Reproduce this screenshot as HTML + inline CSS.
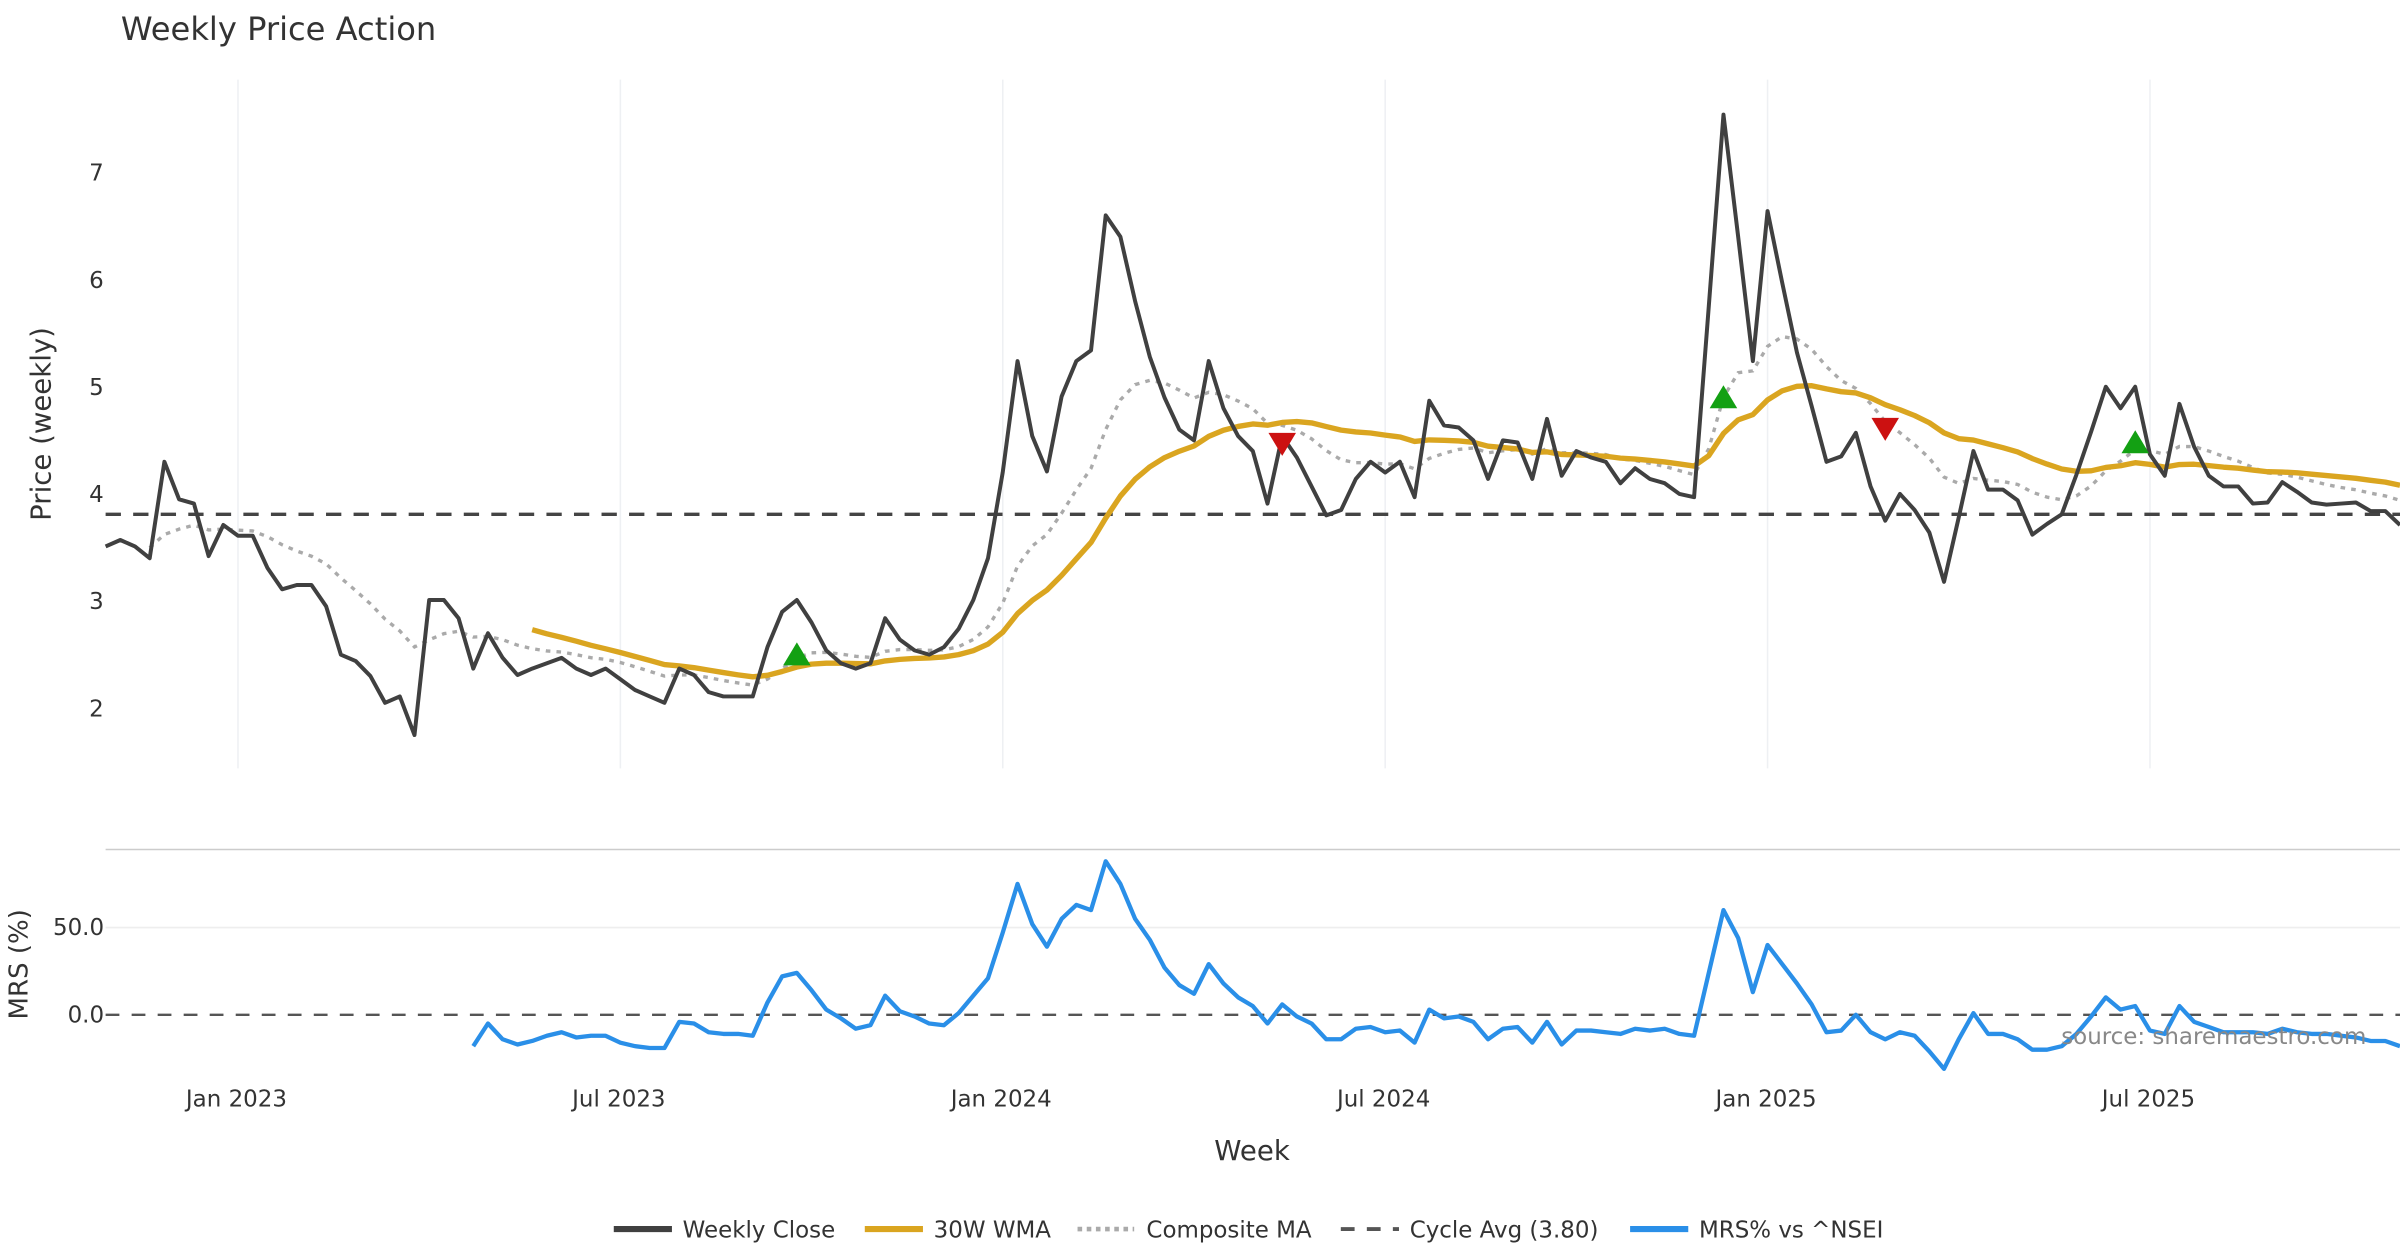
<!DOCTYPE html>
<html><head><meta charset="utf-8"><style>
html,body{margin:0;padding:0;background:#fff;}
svg{display:block;font-family:"DejaVu Sans","Liberation Sans",sans-serif;}
</style></head><body>
<svg id="chart" width="2400" height="1260" viewBox="0 0 1568 823.2" xmlns="http://www.w3.org/2000/svg">
<text x="79" y="26" font-size="21" fill="#333">Weekly Price Action</text>
<g id="grid"></g>
<g id="main"></g>
<g id="lower"></g>
<text transform="translate(33,277) rotate(-90)" text-anchor="middle" font-size="18" fill="#333">Price (weekly)</text>
<text transform="translate(18,630) rotate(-90)" text-anchor="middle" font-size="17" fill="#333">MRS (%)</text>
<text x="818" y="758" text-anchor="middle" font-size="18" fill="#333">Week</text>
<text x="1546" y="682" text-anchor="end" font-size="15" fill="#888">source: sharemaestro.com</text>
<g id="legend" font-size="15" fill="#333">
 <g><line x1="401" y1="803" x2="439" y2="803" stroke="#404040" stroke-width="4"/><text x="446" y="808.5">Weekly Close</text></g>
 <g><line x1="565" y1="803" x2="603" y2="803" stroke="#DAA520" stroke-width="4"/><text x="610" y="808.5">30W WMA</text></g>
 <g><line x1="704" y1="803" x2="741" y2="803" stroke="#aaa" stroke-width="3" stroke-dasharray="3,3"/><text x="749" y="808.5">Composite MA</text></g>
 <g><line x1="876" y1="803" x2="914" y2="803" stroke="#555" stroke-width="2.5" stroke-dasharray="9,8"/><text x="921" y="808.5">Cycle Avg (3.80)</text></g>
 <g><line x1="1065" y1="803" x2="1103" y2="803" stroke="#2A8FE8" stroke-width="4"/><text x="1110" y="808.5">MRS% vs ^NSEI</text></g>
</g>
</svg>
<script>
const closes=[3.5,3.56,3.5,3.39,4.29,3.94,3.9,3.41,3.7,3.6,3.6,3.3,3.1,3.14,3.14,2.94,2.49,2.43,2.29,2.04,2.1,1.74,3.0,3.0,2.83,2.36,2.69,2.46,2.3,2.36,2.41,2.46,2.36,2.3,2.36,2.26,2.16,2.1,2.04,2.36,2.3,2.14,2.1,2.1,2.1,2.56,2.89,3.0,2.79,2.53,2.41,2.36,2.41,2.83,2.63,2.53,2.49,2.56,2.73,3.0,3.39,4.19,5.23,4.53,4.2,4.9,5.23,5.33,6.59,6.39,5.79,5.27,4.89,4.59,4.49,5.23,4.79,4.53,4.39,3.9,4.53,4.33,4.06,3.79,3.84,4.13,4.29,4.19,4.29,3.96,4.86,4.63,4.61,4.49,4.13,4.49,4.47,4.13,4.69,4.16,4.39,4.33,4.29,4.09,4.23,4.13,4.09,3.99,3.96,5.74,7.53,6.39,5.23,6.63,5.96,5.31,4.81,4.29,4.34,4.56,4.06,3.74,3.99,3.84,3.63,3.17,3.77,4.39,4.03,4.03,3.93,3.61,3.71,3.8,4.17,4.57,4.99,4.79,4.99,4.36,4.16,4.83,4.43,4.16,4.06,4.06,3.9,3.91,4.1,4.01,3.91,3.89,3.9,3.91,3.83,3.83,3.7];
const mrs=[-18,-5,-14,-17,-15,-12,-10,-13,-12,-12,-16,-18,-19,-19,-4,-5,-10,-11,-11,-12,7,22,24,14,3,-2,-8,-6,11,2,-1,-5,-6,1,11,21,47,75,52,39,55,63,60,88,75,55,43,27,17,12,29,18,10,5,-5,6,-1,-5,-14,-14,-8,-7,-10,-9,-16,3,-2,-1,-4,-14,-8,-7,-16,-4,-17,-9,-9,-10,-11,-8,-9,-8,-11,-12,24,60,44,13,40,29,18,6,-10,-9,0,-10,-14,-10,-12,-21,-31,-14,1,-11,-11,-14,-20,-20,-18,-11,-1,10,3,5,-9,-11,5,-4,-7,-10,-10,-10,-11,-8,-10,-11,-11,-12,-13,-15,-15,-18];
const cycleAvg=3.80;
const priceTicks=[2,3,4,5,6,7];
const mrsTicks=[0,50];
const mrsTickLabels=["0.0","50.0"];
const xTickIdx=[9,35,61,87,113,139];
const xTickLabels=["Jan 2023","Jul 2023","Jan 2024","Jul 2024","Jan 2025","Jul 2025"];
const buyIdx=[47,110,138];
const buyVal=[2.49,4.89,4.47];
const sellIdx=[80,121];
const sellVal=[4.46,4.6];

const NS="http://www.w3.org/2000/svg";
const X0=69,X1=1568;
const n=closes.length;
const xS=i=>X0+i*(X1-X0)/(n-1);
const yP=v=>462-(v-2)*70;
const yM=v=>663-v*1.14;
function mk(tag,attrs,parent){const e=document.createElementNS(NS,tag);for(const k in attrs)e.setAttribute(k,attrs[k]);parent.appendChild(e);return e;}
const grid=document.getElementById('grid'),main=document.getElementById('main'),lower=document.getElementById('lower');
function path(pts){return pts.map((p,k)=>(k?'L':'M')+p[0].toFixed(1)+','+p[1].toFixed(1)).join('');}

xTickIdx.forEach((ix,k)=>{
  const l=mk('line',{x1:xS(ix),x2:xS(ix),y1:52,y2:502,stroke:'#eef0f3','stroke-width':1},grid);
  
  
  const t=mk('text',{x:xS(ix)-1,y:723,'text-anchor':'middle','font-size':15,fill:'#333'},grid);
  t.textContent=xTickLabels[k];
  
  
});
priceTicks.forEach(v=>{
  const t=mk('text',{x:63,y:yP(v)+6,'text-anchor':'middle','font-size':15,fill:'#333'},grid);
  t.textContent=v;
  
  
});
const sep=mk('line',{x1:X0,x2:X1,y1:555,y2:555,stroke:'#ccc','stroke-width':1},lower);


mrsTicks.forEach((v,k)=>{
  if(v!==0){const g=mk('line',{x1:X0,x2:X1,y1:yM(v),y2:yM(v),stroke:'#eee','stroke-width':1},lower);
  
  }
  const t=mk('text',{x:68,y:yM(v)+5,'text-anchor':'end','font-size':15,fill:'#333'},lower);
  t.textContent=mrsTickLabels[k];
  
  
});
const z=mk('line',{x1:X0,x2:X1,y1:yM(0),y2:yM(0),stroke:'#555','stroke-width':1.5,'stroke-dasharray':'9,8'},lower);



const ca=mk('line',{x1:X0,x2:X1,y1:yP(cycleAvg),y2:yP(cycleAvg),stroke:'#444','stroke-width':2.2,'stroke-dasharray':'10,8'},main);



// composite MA: EMA span 12 seeded with SMA of first 4
const comp=[];
const alpha=2/13;
let e=(closes[0]+closes[1]+closes[2]+closes[3])/4;
comp.push([xS(3),yP(e)]);
for(let i=4;i<n;i++){e=e+alpha*(closes[i]-e);comp.push([xS(i),yP(e)]);}
const cp=mk('path',{d:path(comp),fill:'none',stroke:'#aaa','stroke-width':2.2,'stroke-dasharray':'3,4'},main);


const wma=[];
for(let i=29;i<n;i++){let s=0,ws=0;for(let j=0;j<30;j++){const w=j+1;s+=closes[i-29+j]*w;ws+=w;}wma.push([xS(i),yP(s/ws)]);}
const wp=mk('path',{d:path(wma),fill:'none',stroke:'#DAA520','stroke-width':3.5,'stroke-linejoin':'round'},main);


const cl=mk('path',{d:path(closes.map((v,i)=>[xS(i),yP(v)])),fill:'none',stroke:'#404040','stroke-width':2.6,'stroke-linejoin':'round'},main);


buyIdx.forEach((ix,k)=>{const x=xS(ix),y=yP(buyVal[k]);
  const p=mk('polygon',{points:`${x-9},${y+7} ${x+9},${y+7} ${x},${y-8}`,fill:'#13a013'},main);
  
  });
sellIdx.forEach((ix,k)=>{const x=xS(ix),y=yP(sellVal[k]);
  const p=mk('polygon',{points:`${x-9},${y-7} ${x+9},${y-7} ${x},${y+8}`,fill:'#cc1111'},main);
  
  });
const off=n-mrs.length;
const mp=mk('path',{d:path(mrs.map((v,k)=>[xS(k+off),yM(v)])),fill:'none',stroke:'#2A8FE8','stroke-width':2.8,'stroke-linejoin':'round'},lower);


</script>
</body></html>
